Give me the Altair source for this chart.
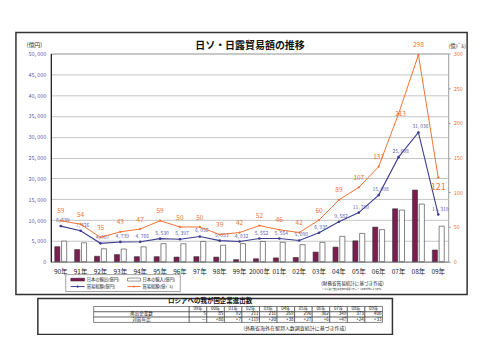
import altair as alt
import pandas as pd

FONT = "Noto Sans CJK JP"

# ---------------- data ----------------
years = ["90年", "91年", "92年", "93年", "94年", "95年", "96年", "97年", "98年", "99年",
         "2000年", "01年", "02年", "03年", "04年", "05年", "06年", "07年", "08年", "09年"]
exports = [3600, 2900, 1300, 1700, 1200, 1200, 1100, 1200, 1100, 500,
           700, 900, 1000, 2300, 3500, 5000, 8300, 12700, 17200, 2800]
imports = [4939, 4526, 3107, 3039, 3566, 4330, 4297, 4856, 3953, 4332,
           4852, 4654, 4090, 4635, 6082, 6790, 7698, 12398, 13836, 8519]
total_yen = [8539, 7426, 4407, 4739, 4766, 5530, 5397, 6056, 5053, 4832,
             5552, 5554, 5090, 6935, 9582, 11790, 15998, 25098, 31036, 11319]
total_usd = [59, 54, 35, 43, 47, 59, 50, 50, 39, 42,
             52, 46, 42, 60, 89, 107, 137, 213, 298, 121]

yen_ticks = [0, 5000, 10000, 15000, 20000, 25000, 30000, 35000, 40000, 45000, 50000]
usd_ticks = [0, 50, 100, 150, 200, 250, 300]

S_EXP = "日本の輸出(億円)"
S_IMP = "日本の輸入(億円)"
S_YEN = "貿易総額(億円)"
S_USD = "貿易総額(億ﾄﾞﾙ)"

table_years = ["99年", "00年", "01年", "02年", "03年", "04年", "05年", "06年", "07年", "08年", "09年"]
firms = [5, 85, 92, 211, 231, 269, 296, 302, 349, 373, 406]
yoy = ["—", "+80", "+7", "+119", "+20", "+38", "+27", "+6", "+47", "+24", "+33"]
row_keys = ["hdr", "進出企業数", "対前年比"]
row_names = ["", "進出企業数", "対前年比"]

# ---------------- colours ----------------
C_EXP = "#7b1d50"
C_ORANGE = "#f07232"
C_BLUE = "#3d3d8f"
C_BLUE_LBL = "#5a5ab0"

bar_df = pd.DataFrame({
    "year": years + years,
    "series": [S_EXP] * len(years) + [S_IMP] * len(years),
    "value": exports + imports,
})
line_df = pd.DataFrame({"year": years, "yen": total_yen, "usd": total_usd})
one = pd.DataFrame({"k": [0]})


def xenc():
    return alt.X("year:N", sort=years, title=None,
                 scale=alt.Scale(paddingInner=0.4, paddingOuter=0.2),
                 axis=alt.Axis(labelAngle=0, labelFontSize=6.5, labelColor="#222",
                               labelPadding=7, ticks=False, domainColor="#888",
                               grid=False, labelFont=FONT))


left_axis = alt.Axis(values=yen_ticks, title="(億円)", titleAngle=0, titleX=-17, titleY=-9,
                     titleAlign="center", titleBaseline="middle", titleFontSize=6,
                     titleFontWeight="normal", titleColor="#333", titleFont=FONT,
                     labelExpr="replace(format(datum.value, ','), ',', ', ')",
                     labelFontSize=5.5, labelColor=C_BLUE_LBL, labelPadding=5, ticks=False,
                     domainColor="#000", grid=True, gridColor="#c4c4c4", gridWidth=1)


def yl(field):
    return alt.Y(f"{field}:Q", scale=alt.Scale(domain=[0, 50000], nice=False), axis=left_axis)


right_axis = alt.Axis(orient="right", values=usd_ticks, title="(億ﾄﾞﾙ)", titleAngle=0,
                      titleX=8.5, titleY=-8, titleAlign="center", titleBaseline="middle",
                      titleFontSize=5.5, titleFontWeight="normal", titleColor="#333",
                      titleFont=FONT, labelFontSize=5.5, labelColor=C_ORANGE, labelPadding=3,
                      tickSize=2, tickColor="#999", domain=False, grid=False)


def yr():
    return alt.Y("usd:Q", scale=alt.Scale(domain=[0, 300], nice=False), axis=right_axis)


bars = alt.Chart(bar_df).mark_bar(stroke="#333", strokeWidth=0.6).encode(
    x=xenc(),
    xOffset=alt.XOffset("series:N", sort=[S_EXP, S_IMP],
                        scale=alt.Scale(paddingInner=0.25, paddingOuter=0)),
    y=yl("value"),
    color=alt.Color("series:N", scale=alt.Scale(domain=[S_EXP, S_IMP], range=[C_EXP, "#ffffff"]),
                    legend=None),
)
blue_line = alt.Chart(line_df).mark_line(
    color=C_BLUE, strokeWidth=1.1,
    point=alt.OverlayMarkDef(filled=True, size=7, color=C_BLUE)).encode(x=xenc(), y=yl("yen"))
blue_lbl = alt.Chart(line_df).transform_calculate(
    lab="replace(format(datum.yen, ','), ',', ', ')"
).mark_text(fontSize=5, color=C_BLUE_LBL, dy=-6, dx=2, font=FONT).encode(
    x=xenc(), y=yl("yen"), text="lab:N")
left = alt.layer(bars, blue_line, blue_lbl)

orange_line = alt.Chart(line_df).mark_line(
    color=C_ORANGE, strokeWidth=1,
    point=alt.OverlayMarkDef(filled=True, size=5, color=C_ORANGE)).encode(x=xenc(), y=yr())
orange_lbl = alt.Chart(line_df).transform_filter(
    "datum.year != '07年' && datum.year != '09年'"
).mark_text(fontSize=6.5, color=C_ORANGE, dy=-9.5, font=FONT).encode(x=xenc(), y=yr(), text="usd:Q")
orange_lbl07 = alt.Chart(line_df).transform_filter("datum.year == '07年'").mark_text(
    fontSize=6.5, color=C_ORANGE, dx=2, font=FONT).encode(x=xenc(), y=yr(), text="usd:Q")
orange_lbl09 = alt.Chart(line_df).transform_filter("datum.year == '09年'").mark_text(
    fontSize=9, color=C_ORANGE, dy=9, font=FONT).encode(x=xenc(), y=yr(), text="usd:Q")
right = alt.layer(orange_line, orange_lbl, orange_lbl07, orange_lbl09)


def rect(x1, x2, y1, y2, **kw):
    return alt.Chart(one).mark_rect(**kw).encode(
        x=alt.value(x1), x2=alt.value(x2), y=alt.value(y1), y2=alt.value(y2))


def label(text, x, y, **kw):
    kw.setdefault("font", FONT)
    return alt.Chart(one).mark_text(text=text, **kw).encode(x=alt.value(x), y=alt.value(y))


def hrule(x1, x2, y, color, width):
    return alt.Chart(one).mark_rule(color=color, strokeWidth=width).encode(
        x=alt.value(x1), x2=alt.value(x2), y=alt.value(y))


def dot(x, y, color, size):
    return alt.Chart(one).mark_point(filled=True, color=color, size=size, opacity=1).encode(
        x=alt.value(x), y=alt.value(y))


bg = rect(-50, 450, -52, 302, fill="#ffffff", fillOpacity=0)
frame = rect(-35, 418, -21, 242, fillOpacity=0, stroke="#333", strokeWidth=1.5)
title = label("日ソ・日露貿易額の推移", 200, -8, fontSize=10, fontWeight="bold", color="#111")

legend_layers = [
    rect(15, 130, 222, 239, fill="#ffffff", stroke="#888", strokeWidth=0.8),
    rect(20, 34, 225.5, 228.5, fill=C_EXP, stroke="#333", strokeWidth=0.4),
    label(S_EXP, 36, 227, fontSize=4.3, align="left", color="#222"),
    rect(77, 90, 225.5, 228.5, fill="#ffffff", stroke="#555", strokeWidth=0.6),
    label(S_IMP, 92, 227, fontSize=4.3, align="left", color="#222"),
    hrule(20, 34, 234, C_BLUE, 1),
    dot(27, 234, C_BLUE, 5),
    label(S_YEN, 36, 234, fontSize=4.3, align="left", color="#222"),
    hrule(77, 90, 234, C_ORANGE, 1),
    dot(83.5, 234, C_ORANGE, 4),
    label(S_USD, 92, 234, fontSize=4.3, align="left", color="#222"),
]
notes = [
    label("(財務省貿易統計に基づき作成)", 303, 231, fontSize=4.6, color="#222"),
    label("※ドル建て数値は各年の税関公示レートの年平均により換算。", 303, 236.5, fontSize=2.2, color="#333"),
]

top = alt.layer(bg, frame, title, *legend_layers, *notes, left, right).resolve_scale(
    y="independent"
).properties(width=399, height=209, view=alt.ViewBackground(stroke="#999", strokeWidth=1))

# ---------------- table ----------------
cells = pd.DataFrame({
    "col": table_years * 3,
    "row": ["hdr"] * len(table_years) + [row_keys[1]] * len(table_years) + [row_keys[2]] * len(table_years),
    "txt": table_years + [str(v) for v in firms] + yoy,
})
lab_df = pd.DataFrame({"row": row_keys, "name": row_names})

xscale = alt.Scale(range=[139, 333], paddingInner=0, paddingOuter=0)
xT = alt.X("col:N", sort=table_years, scale=xscale, axis=None)
xT_right = alt.X("col:N", sort=table_years, scale=xscale, axis=None, bandPosition=1)
yT = alt.Y("row:N", sort=row_keys, scale=alt.Scale(paddingInner=0, paddingOuter=0), axis=None)

tbox = rect(-13, 343, -8, 28, fillOpacity=0, stroke="#333", strokeWidth=1.5)
tbl_title = label("ロシアへの我が国企業進出数", 160, -5.2, fontSize=6.5, fontWeight="bold", color="#111")
label_cells = alt.Chart(lab_df).mark_rect(fill="#ffffff", stroke="#333", strokeWidth=0.6).encode(
    x=alt.value(43), x2=alt.value(139), y=yT)
grid = alt.Chart(cells).mark_rect(fill="#ffffff", stroke="#333", strokeWidth=0.6).encode(x=xT, y=yT)
label_text = alt.Chart(lab_df).mark_text(fontSize=4.6, font=FONT, color="#111").encode(
    x=alt.value(91), y=yT, text="name:N")
hdr_text = alt.Chart(cells).transform_filter("datum.row == 'hdr'").mark_text(
    fontSize=4.4, font=FONT, color="#111").encode(x=xT, y=yT, text="txt:N")
val_text = alt.Chart(cells).transform_filter("datum.row != 'hdr'").mark_text(
    fontSize=4.6, font=FONT, color="#111", align="right", dx=-1).encode(x=xT_right, y=yT, text="txt:N")
tnote = label("(外務省海外在留邦人数調査統計に基づき作成)", 245, 22, fontSize=5, color="#222")

bottom = alt.layer(tbox, tbl_title, label_cells, grid, label_text, hdr_text, val_text, tnote).properties(
    width=343, height=16)

chart = alt.vconcat(top, bottom, spacing=45, bounds="flush").properties(padding=0).configure(
    font=FONT).configure_view(stroke="transparent")

chart.save("out.html", embed_options={"renderer": "svg", "actions": False})
